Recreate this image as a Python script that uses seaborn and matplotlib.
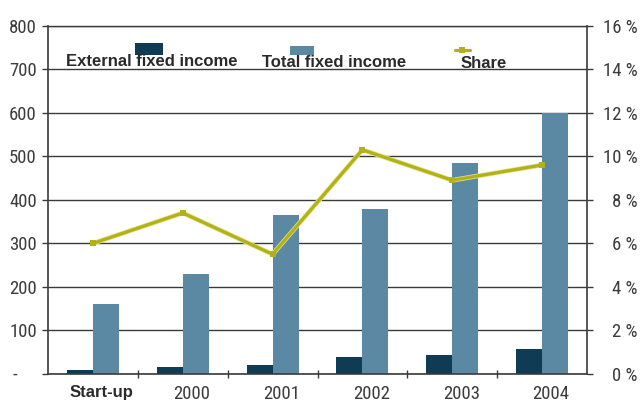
import matplotlib
matplotlib.use("Agg")
import matplotlib.pyplot as plt
import matplotlib.transforms as mtransforms
import matplotlib.patheffects as pe
from matplotlib import font_manager
from matplotlib.patches import Rectangle
from matplotlib.lines import Line2D
import numpy as np
import pandas as pd
import seaborn as sns

# ---- data -------------------------------------------------------------
categories = ["Start-up", "2000", "2001", "2002", "2003", "2004"]
external_fixed_income = [10, 17, 20, 40, 43, 57]
total_fixed_income = [160, 230, 365, 378, 485, 600]
share_pct = [6.0, 7.4, 5.5, 10.3, 8.9, 9.6]

left_ticks = [0, 100, 200, 300, 400, 500, 600, 700, 800]
left_tick_labels = ["-", "100", "200", "300", "400", "500", "600", "700", "800"]
right_ticks = [0, 2, 4, 6, 8, 10, 12, 14, 16]
right_tick_labels = [f"{v} %" for v in right_ticks]

series_names = ["External fixed income", "Total fixed income", "Share"]

# ---- style ------------------------------------------------------------
DARK = "#0f3b54"
LIGHT = "#5b89a4"
OLIVE = "#b2b11c"
GRID = "#3a3a3a"
TEXT = "#2a2a2a"
NUM = "#3c3c3c"

sns.set_theme(style="white")
installed = {f.name for f in font_manager.fontManager.ttflist}
narrow = next((f for f in ["Liberation Sans Narrow", "Roboto Condensed",
                           "Arial Narrow"] if f in installed), None)
if narrow:
    num_font, num_size = narrow, 13.5
else:
    num_font, num_size = "Liberation Sans", 11.5
plt.rcParams["font.family"] = ["Liberation Sans", "DejaVu Sans"]

W, H = 642, 403
fig = plt.figure(figsize=(W / 100, H / 100), dpi=100)
fig.patch.set_facecolor("white")


def fx(px):
    return px / W


def fy(py):
    return 1 - py / H


ax = fig.add_axes([fx(48), fy(374), (587 - 48) / W, (374 - 25.7) / H])

# ---- bars ---------------------------------------------------------------
df = pd.DataFrame({
    "category": categories * 2,
    "series": [series_names[0]] * len(categories) + [series_names[1]] * len(categories),
    "value": external_fixed_income + total_fixed_income,
})
sns.barplot(data=df, x="category", y="value", hue="series",
            order=categories, hue_order=series_names[:2],
            palette=[DARK, LIGHT], saturation=1, width=0.58, gap=0,
            errorbar=None, legend=False, linewidth=0, ax=ax)

ax.set_xlim(-0.5, len(categories) - 0.5)
ax.set_ylim(0, 800)
ax.set_xlabel("")
ax.set_ylabel("")
ax.set_axisbelow(True)
ax.yaxis.grid(True, color=GRID, lw=1.0)
ax.xaxis.grid(False)

ax.set_yticks(left_ticks)
ax.set_yticklabels(left_tick_labels, fontfamily=num_font, fontsize=num_size, color=NUM)
ax.tick_params(axis="y", which="major", left=True, length=4, width=1,
               color=GRID, pad=4, direction="out")

ax.set_xticks(range(len(categories)))
ax.set_xticklabels(categories)
ax.set_xticks(np.arange(0.5, len(categories) - 1, 1), minor=True)
ax.tick_params(axis="x", which="major", length=0, pad=8)
ax.tick_params(axis="x", which="minor", bottom=True, length=6, width=1,
               color=GRID, direction="inout")
for i, lbl in enumerate(ax.get_xticklabels()):
    if i == 0:
        lbl.set_fontweight("bold")
        lbl.set_fontsize(12)
        lbl.set_color(TEXT)
    else:
        lbl.set_fontfamily(num_font)
        lbl.set_fontsize(num_size)
        lbl.set_color(NUM)
    lbl.set_transform(lbl.get_transform() +
                      mtransforms.ScaledTranslation(0.09, 0, fig.dpi_scale_trans))

# ---- share line -------------------------------------------------------
ax2 = ax.twinx()
x_pos = np.arange(len(categories))
sns.lineplot(x=x_pos, y=share_pct, ax=ax2, color=OLIVE, lw=2.3,
             path_effects=[pe.Stroke(linewidth=3.4, foreground="#e2e27c"), pe.Normal()])
sns.scatterplot(x=x_pos, y=share_pct, ax=ax2, color=OLIVE, marker="s",
                s=18, linewidth=0, zorder=3)
ax2.set_xlim(-0.5, len(categories) - 0.5)
ax2.set_ylim(0, 16)
ax2.set_ylabel("")
ax2.grid(False)
ax2.set_yticks(right_ticks)
ax2.set_yticklabels(right_tick_labels, fontfamily=num_font, fontsize=num_size,
                    color=NUM, ha="right")
ax2.tick_params(axis="y", right=True, length=4, width=1, color=GRID, pad=32.5,
                direction="out")

for a in (ax, ax2):
    for side, sp in a.spines.items():
        sp.set_color(GRID)
        sp.set_linewidth(1.2)
ax.spines["right"].set_visible(False)
ax2.spines["left"].set_visible(False)
ax2.spines["top"].set_visible(False)
ax2.spines["bottom"].set_visible(False)
ax.spines["top"].set_linewidth(1.0)

# the zero label sits left of the other numbers
zero_lbl = ax.get_yticklabels()[0]
zero_lbl.set_transform(zero_lbl.get_transform() +
                       mtransforms.ScaledTranslation(-0.2, 0.01, fig.dpi_scale_trans))

# ---- legend -------------------------------------------------------------
fig.add_artist(Rectangle((fx(135), fy(55)), (163 - 135) / W, (55 - 43) / H,
                         transform=fig.transFigure, color=DARK, lw=0))
fig.add_artist(Rectangle((fx(290), fy(55)), (314 - 290) / W, (55 - 46) / H,
                         transform=fig.transFigure, color=LIGHT, lw=0))
fig.add_artist(Line2D([fx(455), fx(470)], [fy(50), fy(50)],
                      transform=fig.transFigure, color=OLIVE, lw=2.3))
fig.add_artist(Line2D([fx(462)], [fy(50)], transform=fig.transFigure,
                      color=OLIVE, marker="s", markersize=5, markeredgewidth=0))

fig.text(fx(66), fy(66), series_names[0], fontsize=12, fontweight="bold",
         color=TEXT, ha="left", va="baseline")
fig.text(fx(262), fy(67), series_names[1], fontsize=12, fontweight="bold",
         color=TEXT, ha="left", va="baseline")
fig.text(fx(461), fy(68), series_names[2], fontsize=12, fontweight="bold",
         color=TEXT, ha="left", va="baseline")

fig.savefig("out.png", dpi=100, facecolor="white")
